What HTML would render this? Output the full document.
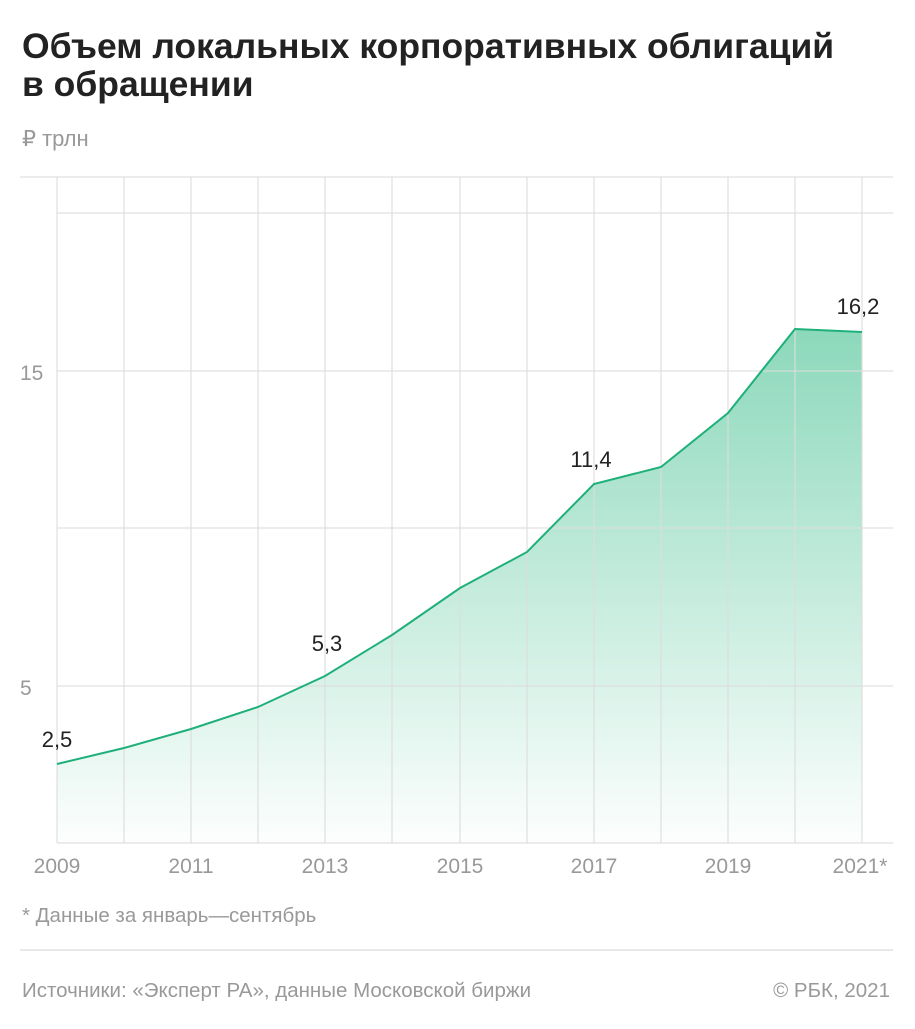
<!DOCTYPE html>
<html><head><meta charset="utf-8"><style>
body{margin:0;background:#fff;width:915px;height:1024px;overflow:hidden;font-family:"Liberation Sans",sans-serif}
</style></head><body>
<svg width="915" height="1024" xmlns="http://www.w3.org/2000/svg" font-family="Liberation Sans, sans-serif">
<defs><linearGradient id="g" x1="0" x2="0" y1="329" y2="843" gradientUnits="userSpaceOnUse">
<stop offset="0" stop-color="#7fd4b4" stop-opacity="0.9"/><stop offset="1" stop-color="#7fd4b4" stop-opacity="0.02"/></linearGradient></defs>
<text x="22" y="58" font-size="35.5" font-weight="bold" fill="#222">Объем локальных корпоративных облигаций</text>
<text x="22" y="96" font-size="35.5" font-weight="bold" fill="#222">в обращении</text>
<text x="22" y="146" font-size="22" fill="#999">₽ трлн</text>
<path d="M57,764 L124,748 L191,729 L258,707 L325,676 L392,635 L460,588 L527,552 L594,484 L661,467 L728,413 L795,329 L862,332 L862,843 L57,843Z" fill="url(#g)"/>
<g stroke="#dcdcdc" stroke-opacity="0.75" stroke-width="1.5">
<line x1="20" y1="177" x2="893" y2="177"/>
<line x1="57" y1="213" x2="893" y2="213"/>
<line x1="57" y1="371" x2="893" y2="371"/>
<line x1="57" y1="528" x2="893" y2="528"/>
<line x1="57" y1="686" x2="893" y2="686"/>
<line x1="57" y1="843" x2="893" y2="843"/>
<line x1="57" y1="177" x2="57" y2="843"/><line x1="124" y1="177" x2="124" y2="843"/><line x1="191" y1="177" x2="191" y2="843"/><line x1="258" y1="177" x2="258" y2="843"/><line x1="325" y1="177" x2="325" y2="843"/><line x1="392" y1="177" x2="392" y2="843"/><line x1="460" y1="177" x2="460" y2="843"/><line x1="527" y1="177" x2="527" y2="843"/><line x1="594" y1="177" x2="594" y2="843"/><line x1="661" y1="177" x2="661" y2="843"/><line x1="728" y1="177" x2="728" y2="843"/><line x1="795" y1="177" x2="795" y2="843"/><line x1="862" y1="177" x2="862" y2="843"/>
</g>
<polyline points="57,764 124,748 191,729 258,707 325,676 392,635 460,588 527,552 594,484 661,467 728,413 795,329 862,332" fill="none" stroke="#1fb07a" stroke-width="2"/>
<g font-size="21" fill="#999">
<text x="20" y="380">15</text><text x="20" y="695">5</text>
<text x="57" y="873" text-anchor="middle">2009</text><text x="191" y="873" text-anchor="middle">2011</text><text x="325" y="873" text-anchor="middle">2013</text><text x="460" y="873" text-anchor="middle">2015</text><text x="594" y="873" text-anchor="middle">2017</text><text x="728" y="873" text-anchor="middle">2019</text><text x="860" y="873" text-anchor="middle">2021*</text>
<text x="22" y="922" font-size="20.5">* Данные за январь—сентябрь</text>
<text x="22" y="997" font-size="20.5">Источники: «Эксперт РА», данные Московской биржи</text>
<text x="890" y="997" font-size="20.5" text-anchor="end">© РБК, 2021</text>
</g>
<line x1="20" y1="950" x2="893" y2="950" stroke="#e0e0e0" stroke-width="1.5"/>
<g font-size="22" fill="#222" text-anchor="middle">
<text x="57" y="747">2,5</text><text x="327" y="651">5,3</text><text x="591" y="467">11,4</text><text x="858" y="314">16,2</text>
</g>
</svg>
</body></html>
